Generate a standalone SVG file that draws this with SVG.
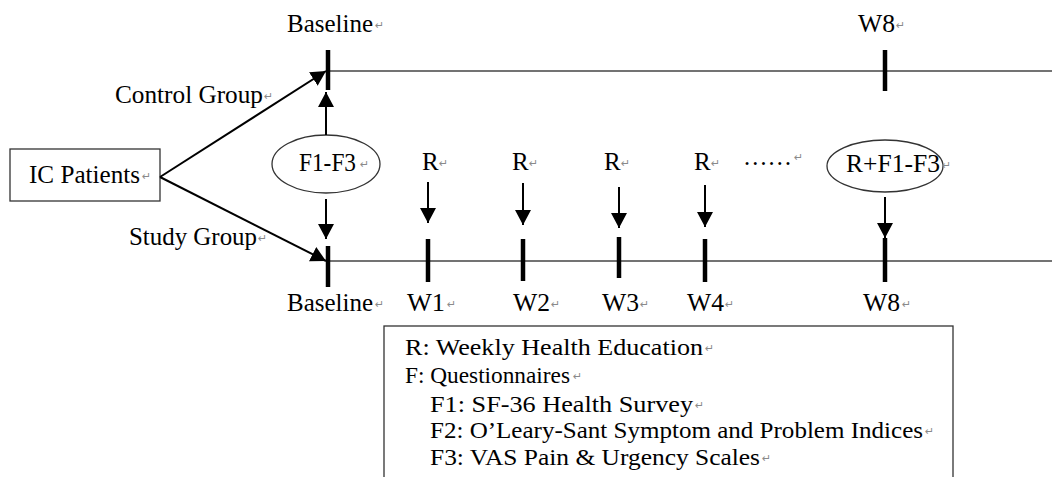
<svg xmlns="http://www.w3.org/2000/svg" width="1052" height="477" viewBox="0 0 1052 477">
<style>
.t{font-family:"Liberation Serif","Times New Roman",serif;font-size:25px;fill:#000}
.lg{font-family:"Liberation Serif","Times New Roman",serif;font-size:24px;fill:#000}
.pm{font-family:"DejaVu Sans",sans-serif;font-size:11px;fill:#8a8a8a}
.box{fill:#fff;stroke:#333;stroke-width:1.3}
.axis{stroke:#444;stroke-width:1.6;fill:none}
.tick{stroke:#000;stroke-width:4.5}
.arr{stroke:#000;stroke-width:2;fill:none;marker-end:url(#ah)}
</style>
<defs>
<marker id="ah" markerUnits="userSpaceOnUse" markerWidth="16" markerHeight="16" viewBox="0 0 16 16" refX="15" refY="8" orient="auto">
<path d="M0,0 L15,8 L0,16 Z" fill="#000"/>
</marker>
</defs>
<g id="timeline-control">
<line class="axis" x1="328" y1="71" x2="1052" y2="71"/>
<line class="tick" x1="328" y1="50" x2="328" y2="90"/>
<line class="tick" x1="885" y1="50" x2="885" y2="91"/>
<text class="t" x="287" y="32" textLength="86" lengthAdjust="spacingAndGlyphs">Baseline</text><text class="pm" x="375" y="29">↵</text>
<text class="t" x="858" y="32" textLength="37" lengthAdjust="spacingAndGlyphs">W8</text><text class="pm" x="896" y="29">↵</text>
</g>
<g id="timeline-study">
<line class="axis" x1="328" y1="261" x2="1052" y2="261"/>
<line class="tick" x1="328" y1="246" x2="328" y2="287"/>
<line class="tick" x1="428" y1="239" x2="428" y2="282"/>
<line class="tick" x1="523" y1="239" x2="523" y2="281"/>
<line class="tick" x1="619" y1="237" x2="619" y2="278"/>
<line class="tick" x1="705" y1="239" x2="705" y2="282"/>
<line class="tick" x1="885" y1="238" x2="885" y2="282"/>
<text class="t" x="287" y="311" textLength="86" lengthAdjust="spacingAndGlyphs">Baseline</text><text class="pm" x="375" y="308">↵</text>
<text class="t" x="407" y="311" textLength="38" lengthAdjust="spacingAndGlyphs">W1</text><text class="pm" x="447" y="308">↵</text>
<text class="t" x="513" y="311" textLength="37" lengthAdjust="spacingAndGlyphs">W2</text><text class="pm" x="551" y="308">↵</text>
<text class="t" x="602" y="311" textLength="37" lengthAdjust="spacingAndGlyphs">W3</text><text class="pm" x="640" y="308">↵</text>
<text class="t" x="687" y="311" textLength="37" lengthAdjust="spacingAndGlyphs">W4</text><text class="pm" x="725" y="308">↵</text>
<text class="t" x="863" y="311" textLength="37" lengthAdjust="spacingAndGlyphs">W8</text><text class="pm" x="902" y="308">↵</text>
</g>
<g id="ic-patients">
<rect class="box" x="10" y="149" width="150" height="52"/>
<text class="t" x="29" y="183" textLength="111" lengthAdjust="spacingAndGlyphs">IC Patients</text><text class="pm" x="142" y="180">↵</text>
</g>
<g id="label-control">
<text class="t" x="115" y="103" textLength="148" lengthAdjust="spacingAndGlyphs">Control Group</text><text class="pm" x="264" y="100">↵</text>
</g>
<g id="label-study">
<text class="t" x="129" y="245" textLength="128" lengthAdjust="spacingAndGlyphs">Study Group</text><text class="pm" x="258" y="242">↵</text>
</g>
<g id="f1f3">
<ellipse class="box" cx="326" cy="164" rx="54" ry="29"/>
<text class="t" x="299" y="171" textLength="57" lengthAdjust="spacingAndGlyphs">F1-F3</text><text class="pm" x="360" y="168">↵</text>
</g>
<g id="r-labels">
<text class="t" x="422" y="170">R</text><text class="pm" x="439" y="167">↵</text>
<text class="t" x="512" y="170">R</text><text class="pm" x="529" y="167">↵</text>
<text class="t" x="604" y="170">R</text><text class="pm" x="621" y="167">↵</text>
<text class="t" x="694" y="170">R</text><text class="pm" x="711" y="167">↵</text>
<text class="t" x="743" y="165" textLength="49" lengthAdjust="spacingAndGlyphs">……</text><text class="pm" x="794" y="161">↵</text>
</g>
<g id="rf1f3">
<ellipse class="box" cx="885" cy="166" rx="58" ry="26"/>
<text class="t" x="846" y="172" textLength="94" lengthAdjust="spacingAndGlyphs">R+F1-F3</text><text class="pm" x="942" y="169">↵</text>
</g>
<g id="legend">
<rect class="box" x="384" y="326" width="569" height="165"/>
<text class="lg" x="405" y="355" textLength="298" lengthAdjust="spacingAndGlyphs">R: Weekly Health Education</text><text class="pm" x="705" y="352">↵</text>
<text class="lg" x="405" y="383" textLength="165" lengthAdjust="spacingAndGlyphs">F: Questionnaires</text><text class="pm" x="573" y="380">↵</text>
<text class="lg" x="430" y="412" textLength="263" lengthAdjust="spacingAndGlyphs">F1: SF-36 Health Survey</text><text class="pm" x="695" y="409">↵</text>
<text class="lg" x="430" y="438" textLength="493" lengthAdjust="spacingAndGlyphs">F2: O’Leary-Sant Symptom and Problem Indices</text><text class="pm" x="925" y="435">↵</text>
<text class="lg" x="430" y="465" textLength="330" lengthAdjust="spacingAndGlyphs">F3: VAS Pain &amp; Urgency Scales</text><text class="pm" x="762" y="462">↵</text>
</g>
<g id="connectors">
<line class="arr" x1="160" y1="177" x2="326" y2="71"/>
<line class="arr" x1="160" y1="177" x2="326" y2="261"/>
<line class="arr" x1="326" y1="135" x2="326" y2="92"/>
<line class="arr" x1="326" y1="199" x2="326" y2="239"/>
<line class="arr" x1="428" y1="182" x2="428" y2="223"/>
<line class="arr" x1="523" y1="183" x2="523" y2="225"/>
<line class="arr" x1="619" y1="187" x2="619" y2="228"/>
<line class="arr" x1="705" y1="185" x2="705" y2="227"/>
<line class="arr" x1="885" y1="197" x2="885" y2="238"/>
</g>
</svg>
